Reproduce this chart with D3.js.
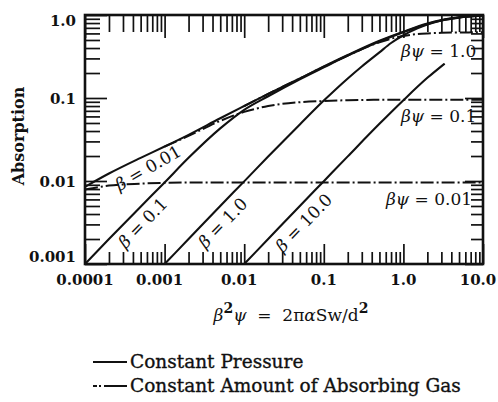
<!DOCTYPE html>
<html><head><meta charset="utf-8">
<script src="https://cdn.jsdelivr.net/npm/d3@7"></script>
<style>
html,body{margin:0;padding:0;background:#fff;}
svg{display:block;}
text{font-family:"DejaVu Serif","Liberation Serif",serif;fill:#111;}
</style></head>
<body>
<svg id="chart" width="498" height="402"></svg>
<script>
// ---- data ----
const xTickValues = [0.0001, 0.001, 0.01, 0.1, 1, 10];
const xTickLabels = ["0.0001", "0.001", "0.01", "0.1", "1.0", "10.0"];
const yTickValues = [0.001, 0.01, 0.1, 1];
const yTickLabels = ["0.001", "0.01", "0.1", "1.0"];

// Constant pressure curves (solid)
const beta001X = [0.0001,0.0002,0.0005,0.001,0.002,0.005,0.01,0.02,0.05,0.1,0.2,0.5,1,2,3,5,10];
const beta001Y = [0.0085,0.0123,0.019,0.026,0.036,0.057,0.08,0.112,0.172,0.24,0.33,0.49,0.63,0.79,0.87,0.94,0.99];
const beta01X  = [0.0001,0.0002,0.0005,0.001,0.002,0.005,0.01,0.02,0.05,0.1,0.2,0.5,1,2,3,5,10];
const beta01Y  = [0.001,0.002,0.0049,0.0096,0.019,0.043,0.072,0.105,0.168,0.234,0.324,0.48,0.62,0.78,0.86,0.93,0.985];
const beta1X   = [0.001,0.002,0.005,0.01,0.02,0.05,0.1,0.2,0.3,0.5,0.7,1,1.5,2,3,5,10];
const beta1Y   = [0.001,0.002,0.005,0.0099,0.0197,0.048,0.093,0.172,0.24,0.355,0.46,0.57,0.69,0.77,0.86,0.935,0.985];
const beta10X  = [0.01,0.02,0.05,0.1,0.2,0.5,1,2,3.3];
const beta10Y  = [0.001,0.002,0.005,0.00995,0.0198,0.0488,0.094,0.175,0.26];

// Constant amount of absorbing gas curves (dash-dot)
const bpsi001X = [0.0001,0.0002,0.0005,0.001,0.002,0.005,0.01,0.1,1,10];
const bpsi001Y = [0.0079,0.0088,0.0093,0.0095,0.0096,0.0096,0.0096,0.0096,0.0096,0.0096];
const bpsi01X  = [0.001,0.002,0.005,0.01,0.02,0.05,0.1,0.2,0.5,1,2,5,10];
const bpsi01Y  = [0.026,0.035,0.053,0.068,0.08,0.089,0.092,0.094,0.095,0.095,0.095,0.095,0.095];
const bpsi1X   = [0.01,0.02,0.05,0.1,0.2,0.5,1,2,3,5,10];
const bpsi1Y   = [0.08,0.112,0.172,0.238,0.325,0.47,0.56,0.6,0.61,0.615,0.62];

const betaLabels = ["0.01", "0.1", "1.0", "10.0"];
const betaPsiLabels = ["1.0", "0.1", "0.01"];
const legendLabels = ["Constant Pressure", "Constant Amount of Absorbing Gas"];

// ---- drawing ----
const svg = d3.select("#chart");
const L = 85, R = 483, T = 15, B = 264;
const x = d3.scaleLog().domain([0.0001, 10]).range([L, R]);
const y = d3.scaleLog().domain([0.001, 1]).range([B, T]);

const minorX = x.ticks().filter(v => !xTickValues.some(t => Math.abs(t - v) / t < 1e-6));
const minorY = y.ticks().filter(v => !yTickValues.some(t => Math.abs(t - v) / t < 1e-6));

function tickAxis(axisFn, scale, vals, size, tx, ty) {
  const g = svg.append("g").attr("transform", `translate(${tx},${ty})`)
    .call(axisFn(scale).tickValues(vals).tickSize(size).tickFormat(""));
  g.select(".domain").remove();
  g.selectAll("line").attr("stroke", "#111").attr("stroke-width", 1.7);
}
tickAxis(d3.axisBottom, x, minorX, -12, 0, B);
tickAxis(d3.axisBottom, x, xTickValues, -20, 0, B);
tickAxis(d3.axisTop, x, minorX, -17, 0, T);
tickAxis(d3.axisTop, x, xTickValues, -23, 0, T);
tickAxis(d3.axisLeft, y, minorY, -15, L, 0);
tickAxis(d3.axisLeft, y, yTickValues, -22, L, 0);
tickAxis(d3.axisRight, y, minorY, -12, R, 0);
tickAxis(d3.axisRight, y, yTickValues, -18, R, 0);

svg.append("rect").attr("x", L).attr("y", T).attr("width", R - L).attr("height", B - T)
  .attr("fill", "none").attr("stroke", "#111").attr("stroke-width", 2.6);

// tick labels
const xl = svg.append("g").attr("font-weight", "bold").attr("font-size", 15);
xTickValues.forEach((v, i) => {
  let px = x(v);
  if (i === xTickValues.length - 1) px -= 5;
  else if (i > 0 && i < 3) px -= 5;
  xl.append("text").attr("x", px).attr("y", 285).attr("text-anchor", "middle").text(xTickLabels[i]);
});
yTickValues.forEach((v, i) => {
  let py = y(v) + 6;
  if (i === 0) py -= 8;
  if (i === yTickValues.length - 1) py += 5;
  xl.append("text").attr("x", 76).attr("y", py).attr("text-anchor", "end").text(yTickLabels[i]);
});

// axis titles
svg.append("text").attr("transform", "translate(24,136) rotate(-90)")
  .attr("text-anchor", "middle").attr("font-size", 16).attr("font-weight", "bold")
  .text("Absorption");

const xt = svg.append("text").attr("x", 291).attr("y", 321).attr("text-anchor", "middle")
  .attr("font-size", 17).attr("xml:space", "preserve");
xt.append("tspan").attr("font-style", "italic").text("β");
xt.append("tspan").attr("dy", -8).attr("font-size", 14).attr("font-weight", "bold").text("2");
xt.append("tspan").attr("dy", 8).attr("font-style", "italic").text("ψ");
xt.append("tspan").text("  =  2π");
xt.append("tspan").attr("font-style", "italic").text("α");
xt.append("tspan").text("Sw/d");
xt.append("tspan").attr("dy", -8).attr("font-size", 14).attr("font-weight", "bold").text("2");

// curves
svg.append("clipPath").attr("id", "clip").append("rect")
  .attr("x", L).attr("y", T - 1).attr("width", R - L).attr("height", B - T + 1);
const line = d3.line().x(d => x(d[0])).y(d => y(d[1])).curve(d3.curveMonotoneX);
const zip = (a, b) => a.map((v, i) => [v, b[i]]);
const curves = svg.append("g").attr("clip-path", "url(#clip)");
[[beta001X, beta001Y], [beta01X, beta01Y], [beta1X, beta1Y], [beta10X, beta10Y]].forEach(([a, b]) => {
  curves.append("path").attr("d", line(zip(a, b))).attr("fill", "none")
    .attr("stroke", "#111").attr("stroke-width", 2.1);
});
[[bpsi001X, bpsi001Y], [bpsi01X, bpsi01Y], [bpsi1X, bpsi1Y]].forEach(([a, b]) => {
  curves.append("path").attr("d", line(zip(a, b))).attr("fill", "none")
    .attr("stroke", "#111").attr("stroke-width", 2).attr("stroke-dasharray", "13,3,2,3");
});

// curve labels
function betaLabel(cx, cy, ang, val) {
  const t = svg.append("text").attr("transform", `translate(${cx},${cy}) rotate(${ang})`)
    .attr("text-anchor", "middle").attr("font-size", 17);
  t.append("tspan").attr("font-style", "italic").text("β");
  t.append("tspan").text(" = " + val);
}
betaLabel(151, 173, -30, betaLabels[0]);
betaLabel(147, 227, -46, betaLabels[1]);
betaLabel(227, 227, -46, betaLabels[2]);
betaLabel(308, 227, -46, betaLabels[3]);

function bpLabel(px, py, val) {
  const t = svg.append("text").attr("x", px).attr("y", py).attr("font-size", 17)
    .attr("xml:space", "preserve");
  t.append("tspan").attr("font-style", "italic").text("βψ");
  t.append("tspan").text(" = " + val);
}
bpLabel(401, 57, betaPsiLabels[0]);
bpLabel(401, 122, betaPsiLabels[1]);
bpLabel(386, 205, betaPsiLabels[2]);

// legend
const lg = svg.append("g");
lg.append("line").attr("x1", 93).attr("x2", 127).attr("y1", 362).attr("y2", 362)
  .attr("stroke", "#111").attr("stroke-width", 2.2);
lg.append("text").attr("x", 130).attr("y", 368).attr("font-size", 18.5)
  .attr("stroke", "#111").attr("stroke-width", 0.35).text(legendLabels[0]);
lg.append("line").attr("x1", 93).attr("x2", 127).attr("y1", 386).attr("y2", 386)
  .attr("stroke", "#111").attr("stroke-width", 2.2).attr("stroke-dasharray", "4,2,2,3,30");
lg.append("text").attr("x", 130).attr("y", 392).attr("font-size", 18.5)
  .attr("stroke", "#111").attr("stroke-width", 0.35).text(legendLabels[1]);
</script>
</body></html>
